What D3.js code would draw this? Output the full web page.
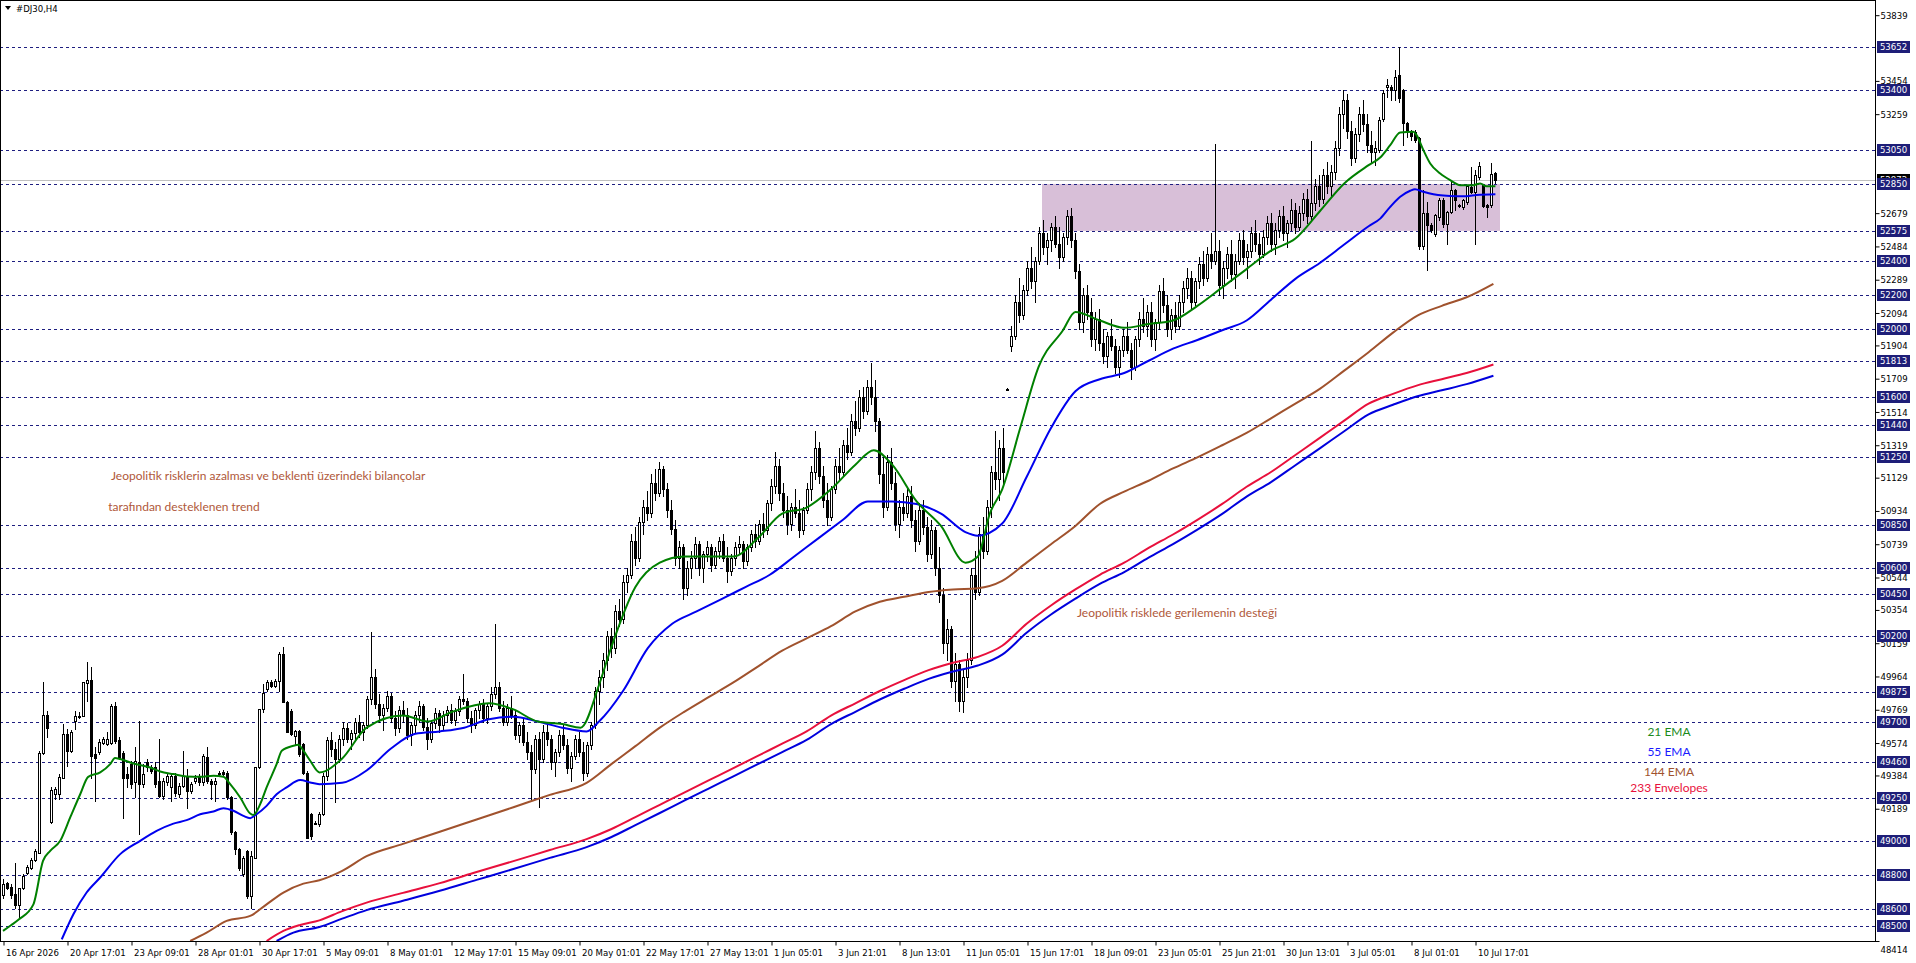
<!DOCTYPE html>
<html>
<head>
<meta charset="utf-8">
<script src="https://cdn.jsdelivr.net/npm/d3@7"></script>
<style>
  body { margin: 0; background: #fff; overflow: hidden; }
  svg { display: block; }
  .axis text { font-family: "DejaVu Sans Condensed", "DejaVu Sans", sans-serif; font-size: 9.5px; fill: #000; }
  .note { font-family: Lato, "Open Sans", sans-serif; font-size: 12px; }
</style>
</head>
<body>
<svg id="chart" width="1916" height="963"></svg>
<script>
// H4 bars, bar 0 = 16 Apr 2026; [open, high, low, close]
var ohlc = [
  [48684, 48776, 48668, 48746], [48754, 48762, 48717, 48727], [48733, 48747, 48668, 48684], [48688, 48870, 48606, 48625],
  [48625, 48727, 48551, 48723], [48723, 48805, 48717, 48795], [48813, 48860, 48805, 48848], [48844, 48899, 48834, 48891],
  [48887, 48952, 48883, 48942], [48932, 49525, 48930, 49515], [49513, 49929, 49509, 49738], [49738, 49759, 49607, 49665],
  [49112, 49314, 49108, 49298], [49275, 49318, 49245, 49304], [49275, 49392, 49245, 49376], [49372, 49685, 49370, 49626],
  [49626, 49656, 49441, 49529], [49529, 49650, 49520, 49640], [49705, 49763, 49656, 49734], [49730, 49755, 49720, 49734],
  [49734, 49929, 49730, 49929], [49925, 50047, 49822, 49943], [49943, 50017, 49372, 49499], [49509, 49548, 49235, 49489],
  [49519, 49600, 49509, 49583], [49577, 49607, 49567, 49597], [49568, 49640, 49560, 49597], [49577, 49802, 49567, 49792],
  [49792, 49812, 49577, 49587], [49593, 49607, 49480, 49486], [49515, 49530, 49132, 49372], [49392, 49431, 49314, 49372],
  [49450, 49470, 49310, 49333], [49343, 49548, 49255, 49470], [49460, 49705, 49040, 49333], [49333, 49450, 49314, 49392],
  [49460, 49480, 49411, 49431], [49431, 49445, 49400, 49411], [49431, 49460, 49314, 49333], [49353, 49597, 49255, 49265],
  [49265, 49372, 49245, 49353], [49343, 49400, 49330, 49382], [49314, 49400, 49235, 49382], [49382, 49400, 49265, 49284],
  [49275, 49340, 49260, 49320], [49323, 49529, 49314, 49382], [49382, 49421, 49196, 49294], [49294, 49345, 49280, 49333],
  [49353, 49385, 49340, 49372], [49382, 49395, 49330, 49343], [49343, 49509, 49330, 49499], [49490, 49548, 49340, 49353],
  [49353, 49365, 49245, 49333], [49333, 49372, 49235, 49353], [49392, 49411, 49380, 49401], [49405, 49415, 49385, 49395],
  [49401, 49410, 49245, 49255], [49255, 49265, 49040, 49050], [49050, 49060, 48923, 48952], [48952, 48960, 48830, 48844],
  [48805, 48910, 48795, 48903], [48942, 48945, 48668, 48678], [48678, 48942, 48610, 48913], [48903, 49431, 48900, 49431],
  [49431, 49773, 49425, 49773], [49773, 49919, 49753, 49870], [49890, 49945, 49880, 49933], [49933, 49945, 49900, 49910],
  [49910, 49950, 49900, 49939], [49939, 50105, 49880, 50096], [50096, 50135, 49812, 49812], [49812, 49820, 49636, 49636],
  [49763, 49775, 49620, 49626], [49617, 49650, 49560, 49642], [49642, 49650, 49500, 49509], [49568, 49575, 49395, 49401],
  [49401, 49410, 49020, 49020], [49157, 49165, 49010, 49030], [49108, 49115, 49100, 49108], [49098, 49170, 49090, 49161],
  // 80
  [49161, 49400, 49150, 49380], [49380, 49610, 49360, 49590], [49590, 49640, 49500, 49540], [49540, 49580, 49230, 49480],
  [49480, 49620, 49460, 49600], [49600, 49700, 49560, 49660], [49660, 49690, 49580, 49600], [49600, 49650, 49540, 49630],
  [49630, 49720, 49600, 49700], [49700, 49740, 49610, 49640], [49640, 49700, 49590, 49680], [49680, 49850, 49660, 49830],
  [49830, 50223, 49800, 49960], [49960, 50010, 49780, 49800], [49800, 49860, 49700, 49740], [49740, 49800, 49650, 49780],
  [49780, 49880, 49760, 49850], [49850, 49870, 49700, 49720], [49720, 49760, 49620, 49660], [49660, 49790, 49640, 49770],
  // 100
  [49770, 49820, 49700, 49740], [49740, 49780, 49600, 49620], [49620, 49700, 49560, 49680], [49680, 49760, 49640, 49740],
  [49740, 49820, 49700, 49790], [49790, 49800, 49650, 49670], [49670, 49720, 49540, 49600], [49600, 49700, 49580, 49690],
  [49690, 49780, 49660, 49750], [49750, 49770, 49640, 49680], [49680, 49760, 49650, 49740], [49740, 49790, 49700, 49770],
  [49770, 49800, 49690, 49710], [49710, 49780, 49680, 49760], [49760, 49850, 49740, 49830], [49830, 49980, 49800, 49820],
  [49820, 49840, 49700, 49720], [49720, 49760, 49640, 49680], [49680, 49780, 49660, 49770], [49770, 49820, 49720, 49800],
  // 120
  [49800, 49830, 49700, 49720], [49720, 49800, 49690, 49790], [49790, 49900, 49770, 49860], [49860, 50270, 49840, 49900],
  [49900, 49930, 49760, 49780], [49780, 49820, 49680, 49700], [49700, 49800, 49680, 49780], [49780, 49850, 49720, 49740],
  [49740, 49760, 49600, 49620], [49620, 49700, 49580, 49680], [49680, 49720, 49560, 49580], [49580, 49640, 49480, 49520],
  [49520, 49560, 49240, 49420], [49420, 49620, 49400, 49600], [49600, 49640, 49198, 49480], [49480, 49680, 49460, 49640],
  [49640, 49700, 49560, 49600], [49600, 49620, 49420, 49460], [49460, 49540, 49380, 49520], [49520, 49650, 49500, 49620],
  // 140
  [49620, 49680, 49540, 49560], [49560, 49600, 49400, 49430], [49430, 49520, 49350, 49500], [49500, 49620, 49480, 49600],
  [49600, 49640, 49500, 49520], [49520, 49580, 49360, 49400], [49400, 49580, 49380, 49560], [49560, 49700, 49540, 49680],
  [49680, 49900, 49660, 49880], [49880, 50000, 49800, 49960], [49960, 50100, 49900, 50060], [50060, 50230, 50000, 50200],
  [50200, 50250, 50080, 50130], [50130, 50380, 50100, 50350], [50350, 50420, 50260, 50300], [50300, 50560, 50280, 50520],
  [50520, 50600, 50460, 50560], [50560, 50800, 50540, 50760], [50760, 50840, 50620, 50660], [50660, 50900, 50640, 50870],
  // 160
  [50870, 51000, 50800, 50960], [50960, 51050, 50880, 50920], [50920, 51150, 50900, 51100], [51100, 51180, 51000, 51040],
  [51040, 51219, 51020, 51180], [51180, 51200, 51020, 51060], [51060, 51100, 50900, 50940], [50940, 51000, 50800, 50830],
  [50830, 50880, 50620, 50660], [50660, 50760, 50600, 50720], [50720, 50740, 50420, 50480], [50480, 50640, 50440, 50600],
  [50600, 50700, 50540, 50660], [50660, 50780, 50600, 50740], [50740, 50760, 50560, 50600], [50600, 50700, 50520, 50680],
  [50680, 50760, 50640, 50720], [50720, 50740, 50580, 50620], [50620, 50720, 50600, 50700], [50700, 50780, 50660, 50760],
  // 180
  [50760, 50800, 50640, 50660], [50660, 50720, 50520, 50580], [50580, 50680, 50560, 50660], [50660, 50750, 50620, 50720],
  [50720, 50790, 50680, 50740], [50740, 50760, 50600, 50640], [50640, 50740, 50620, 50720], [50720, 50820, 50700, 50800],
  [50800, 50860, 50720, 50760], [50760, 50880, 50740, 50860], [50860, 50920, 50780, 50820], [50820, 51000, 50800, 50980],
  [50980, 51120, 50940, 51080], [51080, 51280, 51040, 51200], [51200, 51240, 51000, 51040], [51040, 51100, 50900, 50940],
  [50940, 51020, 50800, 50860], [50860, 50980, 50820, 50960], [50960, 51060, 50900, 50920], [50920, 51000, 50780, 50820],
  // 200
  [50820, 50960, 50800, 50940], [50940, 51100, 50920, 51060], [51060, 51200, 51000, 51160], [51160, 51405, 51120, 51300],
  [51300, 51340, 51100, 51140], [51140, 51200, 50960, 51000], [51000, 51100, 50850, 50900], [50900, 51080, 50880, 51060],
  [51060, 51240, 51040, 51200], [51200, 51300, 51120, 51160], [51160, 51350, 51140, 51320], [51320, 51420, 51240, 51280],
  [51280, 51500, 51260, 51460], [51460, 51580, 51380, 51420], [51420, 51640, 51400, 51600], [51600, 51660, 51480, 51520],
  [51520, 51700, 51500, 51660], [51660, 51800, 51560, 51600], [51600, 51700, 51400, 51460], [51460, 51480, 51100, 51150],
  // 220
  [51150, 51250, 50900, 50960], [50960, 51260, 50940, 51220], [51220, 51300, 51060, 51100], [51100, 51160, 50820, 50860],
  [50860, 51000, 50780, 50960], [50960, 51040, 50880, 50920], [50920, 51060, 50900, 51020], [51020, 51080, 50840, 50880],
  [50880, 50940, 50700, 50760], [50760, 50980, 50740, 50940], [50940, 51000, 50800, 50840], [50840, 50900, 50640, 50680],
  [50680, 50880, 50660, 50820], [50820, 50840, 50560, 50600], [50600, 50720, 50400, 50440], [50440, 50480, 50100, 50160],
  [50160, 50300, 50060, 50240], [50240, 50260, 49900, 49940], [49940, 50100, 49820, 50040], [50040, 50060, 49760, 49820],
  // 240
  [49820, 50000, 49757, 49960], [49960, 50100, 49900, 50060], [50060, 50600, 50040, 50560], [50560, 50700, 50420, 50460],
  [50460, 50840, 50440, 50800], [50800, 50900, 50660, 50700], [50700, 51000, 50680, 50960], [50960, 51200, 50900, 51160],
  [51160, 51400, 51060, 51120], [51120, 51350, 51000, 51300], [51300, 51420, 51100, 51160], [51650, 51655, 51645, 51650],
  [51900, 52020, 51870, 51960], [51960, 52200, 51940, 52160], [52160, 52300, 52040, 52080], [52080, 52260, 52060, 52230],
  [52230, 52400, 52200, 52360], [52360, 52480, 52240, 52280], [52280, 52420, 52160, 52400], [52400, 52600, 52380, 52560],
  // 260
  [52560, 52640, 52440, 52480], [52480, 52560, 52380, 52520], [52520, 52620, 52460, 52600], [52600, 52660, 52480, 52500],
  [52500, 52600, 52360, 52420], [52420, 52560, 52400, 52540], [52540, 52700, 52500, 52660], [52660, 52710, 52480, 52520],
  [52520, 52560, 52300, 52340], [52340, 52380, 52000, 52040], [52040, 52240, 51980, 52200], [52200, 52260, 52060, 52100],
  [52100, 52180, 51900, 51940], [51940, 52100, 51880, 52060], [52060, 52120, 51880, 51920], [51920, 52000, 51800, 51840],
  [51840, 51980, 51780, 51960], [51960, 52060, 51880, 51900], [51900, 51940, 51740, 51780], [51780, 51900, 51720, 51880],
  // 280
  [51880, 52000, 51840, 51960], [51960, 52040, 51860, 51880], [51880, 51920, 51706, 51780], [51780, 51960, 51760, 51940],
  [51940, 52100, 51900, 52060], [52060, 52180, 51980, 52020], [52020, 52140, 51960, 52100], [52100, 52160, 51900, 51940],
  [51940, 52060, 51880, 52040], [52040, 52260, 52000, 52220], [52220, 52300, 52100, 52140], [52140, 52200, 51960, 52000],
  [52000, 52120, 51940, 52080], [52080, 52160, 51980, 52020], [52020, 52200, 52000, 52160], [52160, 52280, 52100, 52240],
  [52240, 52360, 52180, 52300], [52300, 52340, 52120, 52160], [52160, 52300, 52140, 52280], [52280, 52420, 52240, 52380],
  // 300
  [52380, 52460, 52260, 52300], [52300, 52480, 52280, 52440], [52440, 52560, 52360, 52400], [52400, 53082, 52380, 52460],
  [52460, 52520, 52200, 52260], [52260, 52400, 52180, 52360], [52360, 52480, 52300, 52440], [52440, 52520, 52280, 52320],
  [52320, 52440, 52240, 52400], [52400, 52560, 52380, 52520], [52520, 52580, 52380, 52420], [52420, 52500, 52300, 52460],
  [52460, 52600, 52420, 52560], [52560, 52640, 52460, 52500], [52500, 52560, 52380, 52440], [52440, 52580, 52420, 52540],
  [52540, 52660, 52500, 52620], [52620, 52680, 52460, 52500], [52500, 52620, 52440, 52580], [52580, 52700, 52540, 52660],
  // 320
  [52660, 52720, 52520, 52560], [52560, 52640, 52480, 52620], [52620, 52760, 52580, 52700], [52700, 52740, 52560, 52600],
  [52600, 52720, 52580, 52680], [52680, 52800, 52640, 52760], [52760, 52820, 52620, 52660], [52660, 53100, 52640, 52740],
  [52740, 52880, 52700, 52840], [52840, 52900, 52720, 52760], [52760, 52940, 52740, 52900], [52900, 52980, 52800, 52840],
  [52840, 52960, 52780, 52920], [52920, 53100, 52880, 53060], [53060, 53300, 53020, 53260], [53260, 53400, 53180, 53340],
  [53340, 53380, 53120, 53160], [53160, 53220, 52960, 53000], [53000, 53180, 52980, 53140], [53140, 53300, 53100, 53260],
  // 340
  [53260, 53340, 53160, 53200], [53200, 53260, 53040, 53080], [53080, 53160, 52980, 53040], [53040, 53100, 52960, 53060],
  [53048, 53240, 53040, 53224], [53228, 53400, 53220, 53381], [53420, 53463, 53361, 53430], [53420, 53432, 53341, 53400],
  [53400, 53517, 53341, 53478], [53488, 53650, 53332, 53351], [53400, 53405, 53078, 53205], [53205, 53215, 53127, 53166],
  [53156, 53166, 53107, 53130], [53156, 53165, 53098, 53107], [53117, 53125, 52466, 52485], [52485, 52815, 52466, 52681],
  [52681, 52745, 52344, 52608], [52608, 52620, 52570, 52579], [52555, 52675, 52545, 52667], [52657, 52765, 52637, 52755],
  // 360
  [52755, 52765, 52600, 52618], [52614, 52690, 52501, 52686], [52686, 52862, 52677, 52814], [52814, 52820, 52696, 52755],
  [52725, 52735, 52715, 52725], [52716, 52760, 52705, 52755], [52745, 52845, 52735, 52837], [52833, 52950, 52795, 52804],
  [52804, 52931, 52501, 52902], [52892, 52980, 52880, 52954], [52843, 52850, 52715, 52720], [52725, 52735, 52657, 52716],
  [52725, 52974, 52715, 52911], [52915, 52920, 52855, 52872]
];

var dateLabels = ["16 Apr 2026", "20 Apr 17:01", "23 Apr 09:01", "28 Apr 01:01", "30 Apr 17:01", "5 May 09:01",
  "8 May 01:01", "12 May 17:01", "15 May 09:01", "20 May 01:01", "22 May 17:01", "27 May 13:01", "1 Jun 05:01",
  "3 Jun 21:01", "8 Jun 13:01", "11 Jun 05:01", "15 Jun 17:01", "18 Jun 09:01", "23 Jun 05:01", "25 Jun 21:01",
  "30 Jun 13:01", "3 Jul 05:01", "8 Jul 01:01", "10 Jul 17:01"];
var barsPerLabel = 16;

var priceTicks = [53839, 53454, 53259, 52679, 52484, 52289, 52094, 51904, 51709, 51514, 51319, 51129, 50934,
  50739, 50544, 50354, 50159, 49964, 49769, 49574, 49384, 49189, 48414];
var levels = [53652, 53400, 53050, 52850, 52575, 52400, 52200, 52000, 51813, 51600, 51440, 51250, 50850,
  50600, 50450, 50200, 49875, 49700, 49460, 49250, 49000, 48800, 48600, 48500];
var bid = 52872;
var zone = { fromBar: 260, toBar: 374, low: 52575, high: 52850 };

// indicator lines: [bar, price]
var ema21 = [[0, 48473], [2, 48506], [4, 48541], [7.6, 48629], [10, 48883], [11.8, 48942], [14.3, 49001], [16.8, 49138],
  [19.3, 49274], [21.3, 49376], [24.3, 49402], [26.8, 49450], [28, 49486], [29.3, 49480], [32.6, 49454], [36.8, 49431],
  [39.3, 49407], [42.6, 49392], [45.9, 49378], [49.3, 49376], [52.6, 49382], [55.1, 49376], [56.8, 49333], [59.3, 49255],
  [61.8, 49161], [62.6, 49153], [64.3, 49216], [65.9, 49314], [68.4, 49450], [69.7, 49529], [72.6, 49558], [73.8, 49564],
  [75.1, 49529], [76.8, 49470], [79.1, 49402], [84.8, 49484], [90.9, 49664], [100, 49735], [106.2, 49700], [112.3, 49757],
  [121.5, 49807], [127.6, 49771], [133.7, 49700], [139.8, 49685], [144.4, 49664], [149, 49914], [152, 50130],
  [158.1, 50488], [164.2, 50631], [170.3, 50667], [176.4, 50667], [182.6, 50667], [188.7, 50775], [194.8, 50918],
  [200.9, 50954], [207, 51061], [213.1, 51205], [217.7, 51290], [222.3, 51205], [228.4, 50990], [234.5, 50846],
  [240.6, 50631], [243.7, 50667], [246.7, 50918], [249.8, 51061], [254.3, 51420], [258.9, 51778], [265, 51993],
  [268.1, 52100], [274.2, 52050], [280.3, 52007], [286.4, 52029], [292.5, 52050], [298.6, 52136], [304.8, 52244],
  [310.9, 52351], [317, 52459], [323.1, 52530], [329.2, 52690], [335.3, 52853], [341.4, 52960], [344.3, 53005],
  [346.8, 53077], [349.3, 53152], [352.6, 53156], [353.4, 53136], [355.1, 53048], [356.8, 52970], [359.3, 52911],
  [361.8, 52872], [364.3, 52843], [367.6, 52843], [369.3, 52853], [370.9, 52837], [373.1, 52837]];
var ema55 = [[14.7, 48424], [17.6, 48571], [20.9, 48698], [24.3, 48786], [29.3, 48923], [34.3, 49001], [38.4, 49059],
  [42.6, 49102], [45.9, 49122], [49.3, 49157], [52.6, 49173], [55.1, 49192], [57.6, 49177], [60.1, 49147], [61.8, 49134],
  [63.4, 49157], [65.9, 49206], [68.4, 49274], [70.9, 49314], [74.3, 49357], [76.8, 49343], [79.1, 49333], [84.8, 49341],
  [90.9, 49413], [97, 49542], [103.1, 49628], [109.2, 49642], [115.3, 49664], [121.5, 49714], [127.6, 49728],
  [133.7, 49700], [139.8, 49664], [145.9, 49642], [149, 49700], [155, 49879], [161.2, 50130], [167.3, 50273],
  [173.4, 50345], [179.5, 50416], [185.6, 50488], [191.7, 50560], [197.8, 50667], [203.9, 50775], [210, 50882],
  [216.2, 50990], [222.3, 50990], [228.4, 50975], [234.5, 50918], [240.6, 50810], [243.7, 50789], [249.8, 50860],
  [255.9, 51133], [262, 51420], [268.1, 51635], [274.2, 51706], [280.3, 51742], [286.4, 51814], [292.5, 51885],
  [298.6, 51936], [304.8, 51993], [310.9, 52050], [317, 52172], [323.1, 52294], [329.2, 52387], [335.3, 52495],
  [341.4, 52602], [344.3, 52647], [346.8, 52716], [349.3, 52775], [351.8, 52810], [353, 52819], [355.1, 52804],
  [357.6, 52790], [360.1, 52782], [363.4, 52778], [365.9, 52778], [368.4, 52786], [373.1, 52790]];
var ema144 = [[46.8, 48414], [50.9, 48463], [55.9, 48532], [61.8, 48561], [65.9, 48629], [70.1, 48698], [75.1, 48750],
  [79.1, 48770], [84.8, 48825], [90.9, 48911], [100, 48983], [109.2, 49054], [118.4, 49126], [127.6, 49198],
  [136.7, 49270], [145.9, 49341], [152, 49449], [158.1, 49556], [164.2, 49664], [170.3, 49757], [176.4, 49843],
  [182.6, 49929], [188.7, 50022], [194.8, 50115], [200.9, 50187], [207, 50259], [213.1, 50345], [219.2, 50402],
  [225.3, 50431], [231.4, 50459], [237.5, 50474], [243.7, 50481], [249.8, 50524], [255.9, 50631], [262, 50739],
  [268.1, 50846], [274.2, 50975], [280.3, 51047], [286.4, 51111], [292.5, 51183], [298.6, 51248], [304.8, 51319],
  [310.9, 51391], [317, 51477], [323.1, 51563], [329.2, 51649], [335.3, 51756], [341.4, 51864], [347.5, 51979],
  [353.6, 52079], [359.7, 52136], [365.9, 52186], [372.6, 52265]];
var envUpper = [[65.9, 48414], [70.1, 48473], [74.3, 48508], [79.1, 48535], [84.8, 48589], [90.9, 48639], [100, 48696],
  [109.2, 48753], [118.4, 48818], [127.6, 48882], [136.7, 48947], [145.9, 49011], [152, 49069], [158.1, 49140],
  [164.2, 49212], [170.3, 49284], [176.4, 49355], [182.6, 49427], [188.7, 49499], [194.8, 49570], [200.9, 49642],
  [207, 49735], [213.1, 49807], [219.2, 49879], [225.3, 49943], [231.4, 50001], [237.5, 50044], [243.7, 50079],
  [249.8, 50144], [255.9, 50273], [262, 50380], [268.1, 50474], [274.2, 50560], [280.3, 50631], [286.4, 50717],
  [292.5, 50796], [298.6, 50882], [304.8, 50975], [310.9, 51076], [317, 51162], [323.1, 51262], [329.2, 51362],
  [335.3, 51463], [341.4, 51563], [347.5, 51620], [353.6, 51670], [359.7, 51706], [365.9, 51742], [372.6, 51792]];
var envLower = [[68.4, 48414], [72.6, 48463], [79.1, 48496], [84.8, 48545], [90.9, 48595], [100, 48650],
  [109.2, 48708], [118.4, 48772], [127.6, 48836], [136.7, 48901], [145.9, 48964], [152, 49022], [158.1, 49093],
  [164.2, 49164], [170.3, 49236], [176.4, 49307], [182.6, 49379], [188.7, 49450], [194.8, 49521], [200.9, 49592],
  [207, 49685], [213.1, 49757], [219.2, 49829], [225.3, 49892], [231.4, 49950], [237.5, 49993], [243.7, 50028],
  [249.8, 50092], [255.9, 50220], [262, 50327], [268.1, 50420], [274.2, 50506], [280.3, 50576], [286.4, 50661],
  [292.5, 50740], [298.6, 50825], [304.8, 50917], [310.9, 51018], [317, 51103], [323.1, 51202], [329.2, 51301],
  [335.3, 51401], [341.4, 51500], [347.5, 51556], [353.6, 51606], [359.7, 51641], [365.9, 51677], [372.6, 51726]];

var notes = [
  { bar: 27, price: 51140, text: "Jeopolitik risklerin azalması ve beklenti üzerindeki bilançolar" },
  { bar: 26.3, price: 50960, text: "tarafından desteklenen trend" },
  { bar: 268.5, price: 50335, text: "Jeopolitik risklede gerilemenin desteği" }
];
var legend = [
  { name: "21 EMA", color: "#1a8a1a" },
  { name: "55 EMA", color: "#1a1aff" },
  { name: "144 EMA", color: "#a0522d" },
  { name: "233 Envelopes", color: "#e8103c" }
];

var bars = ohlc.map(function (d, i) { return { i: i, o: d[0], h: d[1], l: d[2], c: d[3] }; });

var dims = { width: 1916, height: 963, plotRight: 1875, plotBottom: 941 };
var svg = d3.select("#chart");

var x = d3.scaleLinear().domain([0, 373]).range([3, 1495]);
var y = d3.scaleLinear().domain([48414, 53928]).range([dims.plotBottom, 0]);

svg.append("defs").append("clipPath").attr("id", "plot")
  .append("rect").attr("x", 0).attr("y", 0).attr("width", dims.plotRight).attr("height", dims.plotBottom);

var plot = svg.append("g").attr("clip-path", "url(#plot)");

// support/resistance zone
plot.append("rect")
  .attr("x", x(zone.fromBar) - 1).attr("width", x(zone.toBar) - x(zone.fromBar) + 2)
  .attr("y", y(zone.high)).attr("height", y(zone.low) - y(zone.high))
  .attr("fill", "#d8bfd8");

// horizontal levels
plot.selectAll(".lvl").data(levels).enter().append("line")
  .attr("x1", 0).attr("x2", dims.plotRight)
  .attr("y1", function (d) { return Math.round(y(d)) + 0.5; })
  .attr("y2", function (d) { return Math.round(y(d)) + 0.5; })
  .attr("stroke", "#1e1e80").attr("stroke-width", 1).attr("stroke-dasharray", "3,3");

// bid line
plot.append("line")
  .attr("x1", 0).attr("x2", dims.plotRight)
  .attr("y1", Math.round(y(bid)) + 0.5).attr("y2", Math.round(y(bid)) + 0.5)
  .attr("stroke", "#c0c0c0");

// candles
var candle = plot.selectAll(".bar").data(bars).enter().append("g");
candle.append("line")
  .attr("x1", function (d) { return Math.round(x(d.i)) + 0.5; })
  .attr("x2", function (d) { return Math.round(x(d.i)) + 0.5; })
  .attr("y1", function (d) { return Math.round(y(d.h)); })
  .attr("y2", function (d) { return Math.round(y(d.l)) + 1; })
  .attr("stroke", "#000").attr("shape-rendering", "crispEdges");
candle.append("rect")
  .attr("x", function (d) { return Math.round(x(d.i)) - 0.5; })
  .attr("width", 2)
  .attr("y", function (d) { return Math.round(y(Math.max(d.o, d.c))) + 0.5; })
  .attr("height", function (d) { return Math.max(1, Math.round(y(Math.min(d.o, d.c))) - Math.round(y(Math.max(d.o, d.c)))); })
  .attr("fill", function (d) { return d.c >= d.o ? "#fff" : "#000"; })
  .attr("stroke", "#000").attr("stroke-width", 1);

// indicators
var line = d3.line()
  .x(function (d) { return x(d[0]); })
  .y(function (d) { return y(d[1]); })
  .curve(d3.curveMonotoneX);
[[envLower, "#0000dd"], [envUpper, "#e8103c"], [ema144, "#a0522d"], [ema55, "#0000ee"], [ema21, "#008000"]]
  .forEach(function (s) {
    plot.append("path").datum(s[0]).attr("d", line)
      .attr("fill", "none").attr("stroke", s[1]).attr("stroke-width", 2);
  });

// text notes
plot.selectAll(".note").data(notes).enter().append("text")
  .attr("class", "note")
  .attr("x", function (d) { return x(d.bar); })
  .attr("y", function (d) { return y(d.price); })
  .attr("dy", "0.35em")
  .attr("fill", "#b0583a")
  .text(function (d) { return d.text; });

var legendY = d3.scaleLinear().domain([0, 1]).range([732, 752]);
svg.selectAll(".leg").data(legend).enter().append("text")
  .attr("class", "note leg")
  .attr("x", 1669)
  .attr("y", function (d, i) { return legendY(i) - (i === 3 ? 4 : 0); })
  .attr("dy", "0.35em")
  .attr("text-anchor", "middle")
  .attr("fill", function (d) { return d.color; })
  .text(function (d) { return d.name; });

// frame
svg.append("rect").attr("x", 0.5).attr("y", 0.5)
  .attr("width", dims.plotRight).attr("height", dims.plotBottom)
  .attr("fill", "none").attr("stroke", "#000");

// title
svg.append("path").attr("d", "M5,6 L11,6 L8,10 Z").attr("fill", "#000");
svg.append("text").attr("x", 16).attr("y", 12)
  .style("font-family", "'DejaVu Sans Condensed', sans-serif").style("font-size", "9.5px")
  .text("#DJ30,H4");

// time axis
var xAxis = d3.axisBottom(x)
  .tickValues(dateLabels.map(function (d, i) { return i * barsPerLabel; }))
  .tickFormat(function (d, i) { return dateLabels[i]; })
  .tickSize(4).tickSizeOuter(0);
var gx = svg.append("g").attr("class", "axis")
  .attr("transform", "translate(0.5," + (dims.plotBottom + 0.5) + ")")
  .call(xAxis);
gx.select(".domain").remove();
gx.selectAll("text").attr("text-anchor", "start").attr("x", 2).attr("y", 8);

// price axis
var yAxis = d3.axisRight(y).tickValues(priceTicks).tickFormat(d3.format("d")).tickSize(4).tickSizeOuter(0);
var gy = svg.append("g").attr("class", "axis")
  .attr("transform", "translate(" + (dims.plotRight + 0.5) + ",0)")
  .call(yAxis);
gy.select(".domain").remove();
gy.selectAll("text").attr("x", 5);
gy.selectAll(".tick").filter(function (d) { return d === 48414; }).select("text").attr("dy", "1.2em");

// level price boxes
function priceBox(p, bg) {
  var g = svg.append("g").attr("transform", "translate(" + (dims.plotRight + 2) + "," + Math.round(y(p)) + ")");
  g.append("rect").attr("x", 0).attr("y", -6).attr("width", 33).attr("height", 12).attr("fill", bg);
  g.append("text").attr("x", 16.5).attr("y", 0).attr("dy", "0.35em").attr("text-anchor", "middle")
    .style("font-family", "'DejaVu Sans Condensed', sans-serif").style("font-size", "9.5px")
    .attr("fill", "#fff").text(p);
}
priceBox(bid, "#000");
levels.forEach(function (p) { priceBox(p, "#1e1e78"); });
</script>
</body>
</html>
